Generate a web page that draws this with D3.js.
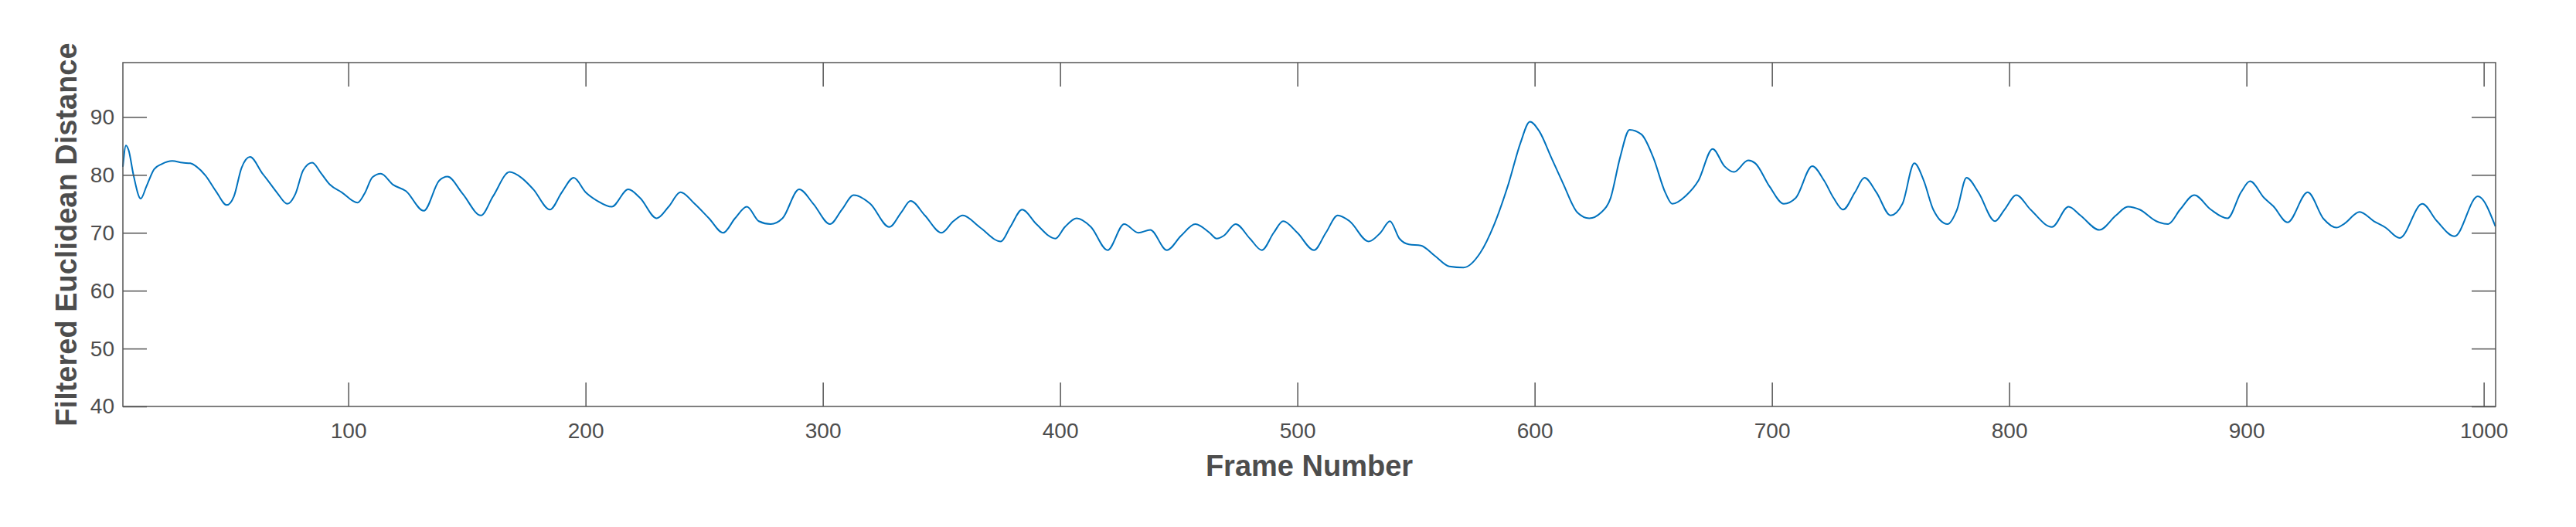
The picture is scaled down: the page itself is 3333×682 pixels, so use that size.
<!DOCTYPE html>
<html>
<head>
<meta charset="utf-8">
<script src="https://cdn.jsdelivr.net/npm/d3@7"></script>
<style>
  html, body { margin: 0; padding: 0; background: #fff; }
  svg { display: block; font-family: "Liberation Sans", Arial, sans-serif; }
</style>
</head>
<body>
<div class="vis-line"></div>
<script>
// key frames (peaks, troughs and shoulders)
const frames = [
  5, 6.3, 7.4, 9.5, 12.5, 15, 18.2, 21.5, 25.8, 30.1, 33.4, 36.1, 39.8, 44.2, 48.8, 51.8, 55, 58.6,
  63.7, 65.8, 70.2, 74.3, 77.8, 81, 84.8, 88.5, 92.3, 97.2, 103.9, 106.9, 110.2, 113.7, 118.9, 124.3,
  131.8, 138.3, 141.8, 148.1, 155.9, 161, 168, 173, 178, 185, 190, 195, 200, 205, 211, 218, 223, 230,
  235, 240, 246, 252, 258, 263, 268, 273, 278, 283, 290, 296, 303, 308, 313, 320, 328, 333, 337, 343,
  350, 355, 359, 366, 375, 379, 384, 390, 398, 402, 407, 413, 420, 427, 433, 438, 445, 451, 457, 463,
  466, 469, 474, 480, 485, 490, 494, 500, 507, 512, 517, 522, 530, 535, 539, 543, 547, 552, 558, 564,
  570, 577, 583, 589, 594, 598, 602, 607, 612, 618, 623, 628, 632, 636, 640, 645, 650, 655, 658, 664,
  669, 675, 680, 684, 690, 693, 699, 705, 710, 717, 722, 726, 730, 735, 739, 744, 750, 755, 760, 764,
  768, 774, 778, 782, 787, 794, 798, 803, 809, 818, 825, 830, 838, 845, 850, 855, 862, 867, 872, 878,
  885, 892, 897.7, 901.5, 907.5, 911.3, 917.3, 925.8, 932.5, 937.9, 941, 947.7, 953.7, 958.6, 964.6,
  974.1, 980.3, 987.7, 997.5, 1004.9
];
const distance = [
  81.4, 85.1, 84.3, 79.9, 75.9, 78.1, 81.0, 81.9, 82.4, 82.1, 82.0, 81.4, 79.9, 77.2, 74.8, 76.3, 81.2, 83.1,
  80.3, 79.2, 76.8, 75.0, 76.8, 80.8, 82.1, 80.3, 78.3, 77.0, 75.2, 76.8, 79.6, 80.2, 78.3, 77.2,
  73.8, 79.0, 79.7, 76.8, 73.0, 76.3, 80.5, 79.5, 77.5, 74.0, 77.0, 79.5, 77.0, 75.5, 74.5, 77.5, 76.0, 72.5,
  74.5, 77.0, 75.0, 72.5, 70.0, 72.5, 74.5, 72.0, 71.5, 72.5, 77.5, 75.0, 71.5, 74.0, 76.5, 75.0, 71.0, 73.5, 75.5, 73.0,
  70.0, 72.0, 73.0, 71.0, 68.5, 71.0, 74.0, 71.5, 69.0, 71.0, 72.5, 71.0, 67.0, 71.5, 70.0, 70.5, 67.0, 69.5, 71.5, 70.0,
  69.0, 69.5, 71.5, 69.0, 67.0, 70.0, 72.0, 70.0, 67.0, 70.0, 73.0, 72.0, 68.5, 70.0, 72.0, 69.0, 68.0, 67.8, 66.0, 64.2,
  64.0, 66.5, 71.5, 78.5, 85.5, 89.2, 87.5, 83.0, 78.5, 73.5, 72.5, 73.5, 76.0, 83.0, 87.8, 87.0, 83.0, 77.0, 75.0, 76.5,
  79.0, 84.5, 81.5, 80.5, 82.5, 82.0, 78.0, 75.0, 76.0, 81.5, 79.0, 76.0, 74.0, 77.0, 79.5, 77.0, 73.0, 75.0, 82.0, 79.0,
  74.0, 71.5, 74.0, 79.5, 77.0, 72.0, 74.0, 76.5, 74.0, 71.0, 74.5, 73.0, 70.5, 73.0, 74.5, 74.0, 72.0, 71.5, 74.0, 76.5,
  74.0, 72.5, 77.0, 78.9, 76.0, 74.6, 71.8, 77.0, 72.4, 70.9, 71.5, 73.6, 72.0, 70.9, 69.1,
  75.0, 72.0, 69.4, 76.3, 71.1
];
const xTicks = [100, 200, 300, 400, 500, 600, 700, 800, 900, 1000];
const yTicks = [40, 50, 60, 70, 80, 90];

const W = 3333, H = 682;
const margin = {top: 81, right: 104, bottom: 156, left: 159};
const width = W - margin.left - margin.right;
const height = H - margin.top - margin.bottom;
const axisColor = '#555555';
const textColor = '#4d4d4d';
const tickLen = 31;

const svg = d3.select('.vis-line').append('svg')
    .attr('width', W)
    .attr('height', H);

const g = svg.append('g')
    .attr('transform', 'translate(' + margin.left + ',' + margin.top + ')');

const x = d3.scaleLinear().domain([5, 1005]).range([0, width]);
const y = d3.scaleLinear().domain([40, 99.4]).range([height, 0]);

const data = frames.map((f, i) => ({f: f, v: distance[i]}));

const line = d3.line()
    .x(d => x(d.f))
    .y(d => y(d.v))
    .curve(d3.curveMonotoneX);

g.append('path')
    .datum(data)
    .attr('fill', 'none')
    .attr('stroke', '#0072BD')
    .attr('stroke-width', 2)
    .attr('d', line);

// bottom / left with labels, top / right mirrored ticks only
const xBottom = g.append('g')
    .attr('transform', 'translate(0,' + height + ')')
    .call(d3.axisBottom(x).tickValues(xTicks).tickFormat(d3.format('d'))
        .tickSizeInner(-tickLen).tickSizeOuter(0).tickPadding(21));
const xTop = g.append('g')
    .call(d3.axisTop(x).tickValues(xTicks).tickSizeInner(-tickLen).tickSizeOuter(0).tickFormat(''));
const yLeft = g.append('g')
    .call(d3.axisLeft(y).tickValues(yTicks).tickFormat(d3.format('d'))
        .tickSizeInner(-tickLen).tickSizeOuter(0).tickPadding(11));
const yRight = g.append('g')
    .attr('transform', 'translate(' + width + ',0)')
    .call(d3.axisRight(y).tickValues(yTicks).tickSizeInner(-tickLen).tickSizeOuter(0).tickFormat(''));

[xBottom, xTop, yLeft, yRight].forEach(a => {
    a.select('.domain').remove();
    a.selectAll('line').attr('stroke', axisColor).attr('stroke-width', 1.5);
    a.selectAll('text')
        .attr('fill', textColor)
        .style('font-size', '28px')
        .style('font-family', '"Liberation Sans", Arial, sans-serif');
});

g.append('rect')
    .attr('width', width)
    .attr('height', height)
    .attr('fill', 'none')
    .attr('stroke', axisColor)
    .attr('stroke-width', 1.5);

svg.append('text')
    .attr('x', margin.left + width / 2)
    .attr('y', 616)
    .attr('text-anchor', 'middle')
    .attr('fill', textColor)
    .style('font-size', '38px')
    .style('font-weight', 'bold')
    .text('Frame Number');

svg.append('text')
    .attr('transform', 'translate(99,' + (margin.top + height / 2) + ') rotate(-90)')
    .attr('text-anchor', 'middle')
    .attr('fill', textColor)
    .style('font-size', '38px')
    .style('font-weight', 'bold')
    .text('Filtered Euclidean Distance');
</script>
</body>
</html>
